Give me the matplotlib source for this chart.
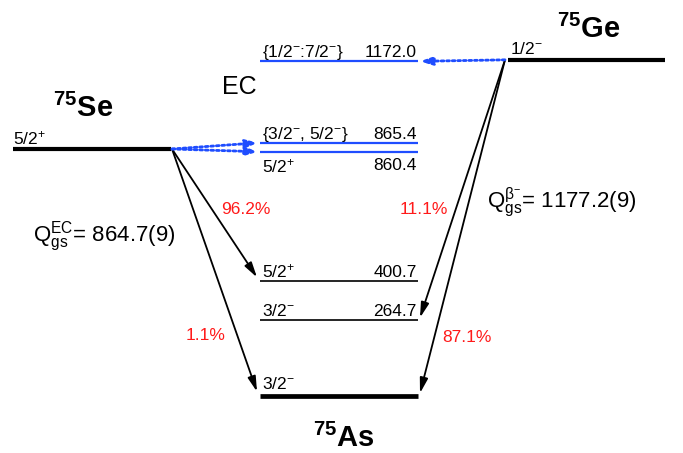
import matplotlib.pyplot as plt
from matplotlib.transforms import offset_copy

plt.rcParams['font.family'] = ['Liberation Sans', 'DejaVu Sans']
plt.rcParams['mathtext.fontset'] = 'custom'
plt.rcParams['mathtext.rm'] = 'Liberation Sans'
plt.rcParams['mathtext.it'] = 'Liberation Sans:italic'
plt.rcParams['mathtext.bf'] = 'Liberation Sans:bold'

# 75As levels (keV) and their spins
as_energies = [0.0, 264.7, 400.7, 860.4, 865.4, 1172.0]
as_spins = [r'3/2$^{-}$', r'3/2$^{-}$', r'5/2$^{+}$', r'5/2$^{+}$',
            r'{3/2$^{-}$, 5/2$^{-}$}', r'{1/2$^{-}$:7/2$^{-}$}']

# parent ground states
q_ec = 864.7      # 75Se -> 75As
q_beta = 1177.2   # 75Ge -> 75As
se_spin = r'5/2$^{+}$'
ge_spin = r'1/2$^{-}$'

# main branches: daughter level, intensity
ec_levels = [400.7, 0.0]
ec_labels = ['96.2%', '1.1%']
beta_levels = [264.7, 0.0]
beta_labels = ['11.1%', '87.1%']

# weak feeding of high-lying states
ec_weak = [865.4, 860.4]
beta_weak = [1172.0]

BLUE = '#1f4dff'
RED = '#ff1a1a'

fig = plt.figure(figsize=(6.83, 4.53), dpi=100)
ax = fig.add_axes([0, 0, 1, 1])
ax.set_xlim(0, 683)
ax.set_ylim(-200.8, 1386.9)
ax.axis('off')


def shifted(dy):
    # nudge in pixels so close-lying levels stay readable
    return offset_copy(ax.transData, fig=fig, x=0, y=dy, units='dots')


def nudge(e):
    return {865.4: 6.0, 860.4: -1.5}.get(e, 0.0)


def P(x, y):
    return (x / 683, 1 - y / 453)


# daughter levels
for e, spin in zip(as_energies, as_spins):
    tr = shifted(nudge(e))
    if e > 800:
        color, lw = BLUE, 1.6
    elif e == 0:
        color, lw = 'black', 3.4
    else:
        color, lw = 'black', 1.2
    ax.plot([260, 418], [e, e], color=color, lw=lw, solid_capstyle='butt', transform=tr)
    if e == 860.4:
        ax.annotate(spin, (262, e), xycoords=tr, xytext=(0, -6 * 0.72), textcoords='offset points',
                    ha='left', va='top', fontsize=12.5)
        ax.annotate(f'{e:.1f}', (417, e), xycoords=tr, xytext=(0, -6 * 0.72), textcoords='offset points',
                    ha='right', va='top', fontsize=12.5)
        continue
    dy = 6.5 if e == 0 else 4
    ax.annotate(spin, (262, e), xycoords=tr, xytext=(0, dy * 0.72), textcoords='offset points',
                ha='left', va='baseline', fontsize=12.5)
    if e > 0:
        ax.annotate(f'{e:.1f}', (417, e), xycoords=tr, xytext=(0, dy * 0.72), textcoords='offset points',
                    ha='right', va='baseline', fontsize=12.5)

# parent levels
ax.plot([13, 171], [q_ec, q_ec], color='black', lw=3, solid_capstyle='butt')
ax.plot([508, 665], [q_beta, q_beta], color='black', lw=3, solid_capstyle='butt')
ax.annotate(se_spin, (13, q_ec), xytext=(0, 4.5 * 0.72), textcoords='offset points',
            ha='left', va='baseline', fontsize=12.5)
ax.annotate(ge_spin, (510, q_beta), xytext=(0, 6 * 0.72), textcoords='offset points',
            ha='left', va='baseline', fontsize=12.5)

# decay arrows
solid = dict(arrowstyle='-|>,head_length=0.75,head_width=0.2', color='black', lw=1.3,
             shrinkA=0, shrinkB=0, mutation_scale=12)
for e in ec_levels:
    ax.annotate('', xy=(257, e), xycoords=shifted(4), xytext=(172, q_ec), textcoords='data',
                arrowprops=solid)
for e in beta_levels:
    ax.annotate('', xy=(420, e), xycoords=shifted(2.5), xytext=(505, q_beta), textcoords='data',
                arrowprops=solid)

dotted = dict(arrowstyle='-|>,head_length=0.9,head_width=0.3', color=BLUE, lw=2,
              linestyle=(0, (1, 1)), shrinkA=0, shrinkB=0, mutation_scale=8)
for e in ec_weak:
    ax.annotate('', xy=(258, e), xycoords=shifted(nudge(e)), xytext=(172, q_ec), textcoords='data',
                arrowprops=dotted)
for e in beta_weak:
    ax.annotate('', xy=(420, e), xycoords='data', xytext=(505, q_beta), textcoords='data',
                arrowprops=dotted)

# branching ratios
for (x, y), s in zip([(246, 210), (206, 335)], ec_labels):
    ax.text(*P(x, y), s, transform=ax.transAxes, color=RED, fontsize=12.5, ha='center', va='center')
for (x, y), s in zip([(424, 210), (467, 337)], beta_labels):
    ax.text(*P(x, y), s, transform=ax.transAxes, color=RED, fontsize=12.5, ha='center', va='center')

# nuclide names and Q values
big = dict(transform=ax.transAxes, fontsize=21, fontweight='bold', ha='left', va='baseline')
ax.text(*P(53, 117), r'$^{\mathbf{75}}$Se', **big)
ax.text(*P(557, 38), r'$^{\mathbf{75}}$Ge', **big)
ax.text(*P(313, 447), r'$^{\mathbf{75}}$As', **big)
ax.text(*P(222, 87), 'EC', transform=ax.transAxes, fontsize=18, ha='left', va='center')
ax.text(*P(33, 242), r'Q$_{\mathrm{gs}}^{\mathrm{EC}}$= ' + f'{q_ec}(9)',
        transform=ax.transAxes, fontsize=16, ha='left', va='baseline')
ax.text(*P(487, 207), r'Q$_{\mathrm{gs}}^{\mathrm{β}^{-}}$= ' + f'{q_beta}(9)',
        transform=ax.transAxes, fontsize=16, ha='left', va='baseline')

fig.savefig('out.png', dpi=100)
